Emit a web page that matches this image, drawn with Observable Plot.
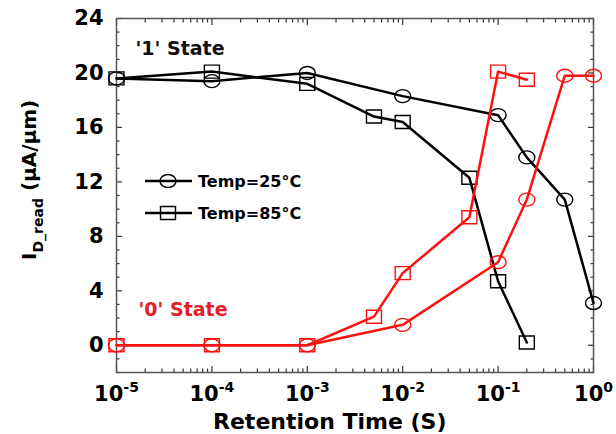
<!DOCTYPE html>
<html><head><meta charset="utf-8">
<script src="https://cdn.jsdelivr.net/npm/d3@7"></script>
<script src="https://cdn.jsdelivr.net/npm/@observablehq/plot@0.6"></script>
<style>
html,body{margin:0;padding:0;background:#fff;}
#chart{width:616px;height:434px;}
svg{font-family:"DejaVu Sans";font-weight:bold;}
</style></head><body><div id="chart"></div>
<script>
// Data
const time25 = [1e-5, 1e-4, 1e-3, 1e-2, 1e-1, 2e-1, 5e-1, 1];
const one25  = [19.6, 19.4, 20.0, 18.3, 16.9, 13.8, 10.7, 3.1];
const zero25 = [0, 0, 0, 1.5, 6.1, 10.7, 19.8, 19.8];
const time85 = [1e-5, 1e-4, 1e-3, 5e-3, 1e-2, 5e-2, 1e-1, 2e-1];
const one85  = [19.6, 20.1, 19.2, 16.8, 16.4, 12.3, 4.7, 0.2];
const zero85 = [0, 0, 0, 2.1, 5.3, 9.4, 20.1, 19.5];
const xTickExponents = [-5, -4, -3, -2, -1, 0];
const yTickLabels = [0, 4, 8, 12, 16, 20, 24];
const legendLabels = ["Temp=25\u00B0C", "Temp=85\u00B0C"];
const stateLabels = ["'1' State", "'0' State"];

const BLACK = "#000", RED = "#ff1010", FRAME = "#555";
const xMajor = xTickExponents.map(e => Math.pow(10, e));
const xMinor = [];
xTickExponents.slice(0, -1).forEach(e => { for (let k = 2; k <= 9; k++) xMinor.push(k * Math.pow(10, e)); });
const yMinor = d3.range(-2, 25, 1).filter(v => v % 4 !== 0);

const rows = (t, v) => t.map((x, i) => ({x, y: v[i]}));
const s1_25 = rows(time25, one25), s0_25 = rows(time25, zero25);
const s1_85 = rows(time85, one85), s0_85 = rows(time85, zero85);

const ellipse = {draw(ctx) {
  const rx = 8, ry = 6.5, k = 0.5523;
  ctx.moveTo(rx, 0);
  ctx.bezierCurveTo(rx, ry * k, rx * k, ry, 0, ry);
  ctx.bezierCurveTo(-rx * k, ry, -rx, ry * k, -rx, 0);
  ctx.bezierCurveTo(-rx, -ry * k, -rx * k, -ry, 0, -ry);
  ctx.bezierCurveTo(rx * k, -ry, rx, -ry * k, rx, 0);
  ctx.closePath();
}};
const box = {draw(ctx) {
  const w = 7.5, h = 6.5;
  ctx.moveTo(-w, -h); ctx.lineTo(w, -h); ctx.lineTo(w, h); ctx.lineTo(-w, h); ctx.closePath();
}};

const tickAxis = (fn, anchor, ticks, size) => fn({anchor, ticks, tickSize: -size, tickFormat: () => "", label: null, stroke: "#333", strokeWidth: 1.2});

const plot = Plot.plot({
  width: 616, height: 434,
  marginLeft: 116, marginRight: 23, marginTop: 18, marginBottom: 62,
  style: {fontFamily: "DejaVu Sans", fontWeight: "bold", color: "#000", background: "#fff"},
  x: {type: "log", domain: [1e-5, 1]},
  y: {domain: [-2, 24]},
  marks: [
    tickAxis(Plot.axisY, "left", yTickLabels, 6),
    tickAxis(Plot.axisY, "left", yMinor, 3.5),
    tickAxis(Plot.axisY, "right", yTickLabels, 6),
    tickAxis(Plot.axisY, "right", yMinor, 3.5),
    tickAxis(Plot.axisX, "bottom", xMajor, 6),
    tickAxis(Plot.axisX, "bottom", xMinor, 3.5),
    tickAxis(Plot.axisX, "top", xMajor, 6),
    tickAxis(Plot.axisX, "top", xMinor, 3.5),
    Plot.axisY({anchor: "left", ticks: yTickLabels, tickSize: 0, tickPadding: 13, fontSize: 21, label: null}),
    Plot.axisX({anchor: "bottom", ticks: xMajor, tickSize: 0, tickPadding: 14, fontSize: 21, label: null,
      tickFormat: d => String(Math.round(Math.log10(d)))}),
    Plot.frame({stroke: FRAME, strokeWidth: 1.5}),
    Plot.line(s1_25, {x: "x", y: "y", stroke: BLACK, strokeWidth: 2.5}),
    Plot.line(s1_85, {x: "x", y: "y", stroke: BLACK, strokeWidth: 2.5}),
    Plot.dot(s1_25, {x: "x", y: "y", symbol: ellipse, stroke: BLACK, strokeWidth: 1.4}),
    Plot.dot(s1_85, {x: "x", y: "y", symbol: box, stroke: BLACK, strokeWidth: 1.4}),
    Plot.line(s0_25, {x: "x", y: "y", stroke: RED, strokeWidth: 2.5}),
    Plot.line(s0_85, {x: "x", y: "y", stroke: RED, strokeWidth: 2.5}),
    Plot.dot(s0_25, {x: "x", y: "y", symbol: ellipse, stroke: RED, strokeWidth: 1.4}),
    Plot.dot(s0_85, {x: "x", y: "y", symbol: box, stroke: RED, strokeWidth: 1.4}),
    Plot.text([stateLabels[0]], {text: d => d, frameAnchor: "top-left", dx: 19, dy: 36, lineAnchor: "bottom", textAnchor: "start", fontSize: 19, fill: "#111"}),
    Plot.text([stateLabels[1]], {text: d => d, frameAnchor: "top-left", dx: 22, dy: 297, lineAnchor: "bottom", textAnchor: "start", fontSize: 19, fill: "#e32028"})
  ]
});
document.getElementById("chart").append(plot);

const svg = d3.select(plot);
// superscript exponents on x tick labels (only the labelled axis)
svg.selectAll('g[aria-label="x-axis tick label"] text').each(function() {
  const t = d3.select(this);
  const e = t.text();
  if (!e) return;
  t.text("");
  t.append("tspan").text("10");
  t.append("tspan").attr("font-size", 14).attr("dy", -9).text(e.replace("\u2212", "-"));
});

// axis titles
svg.append("text").attr("x", 213).attr("y", 429).attr("font-size", 22).attr("text-anchor", "start").attr("fill", "#000").text("Retention Time (S)");
const yl = svg.append("text").attr("transform", "translate(36,260) rotate(-90)").attr("text-anchor", "start").attr("font-size", 20).attr("fill", "#000");
yl.append("tspan").text("I");
yl.append("tspan").attr("font-size", 14).attr("dy", 7).text("D_read");
yl.append("tspan").attr("dy", -7).text(" (\u03BCA/\u03BCm)");

// legend
const lg = svg.append("g");
[ellipse, box].forEach((sym, i) => {
  const y = 181 + i * 32;
  lg.append("line").attr("x1", 145).attr("x2", 192).attr("y1", y).attr("y2", y).attr("stroke", BLACK).attr("stroke-width", 2.5);
  lg.append("path").attr("d", d3.symbol(sym)()).attr("transform", `translate(168,${y})`).attr("fill", "none").attr("stroke", BLACK).attr("stroke-width", 1.4);
  lg.append("text").attr("x", 198).attr("y", y + 6).attr("font-size", 16).attr("text-anchor", "start").attr("fill", "#000").text(legendLabels[i]);
});
</script>
</body></html>
